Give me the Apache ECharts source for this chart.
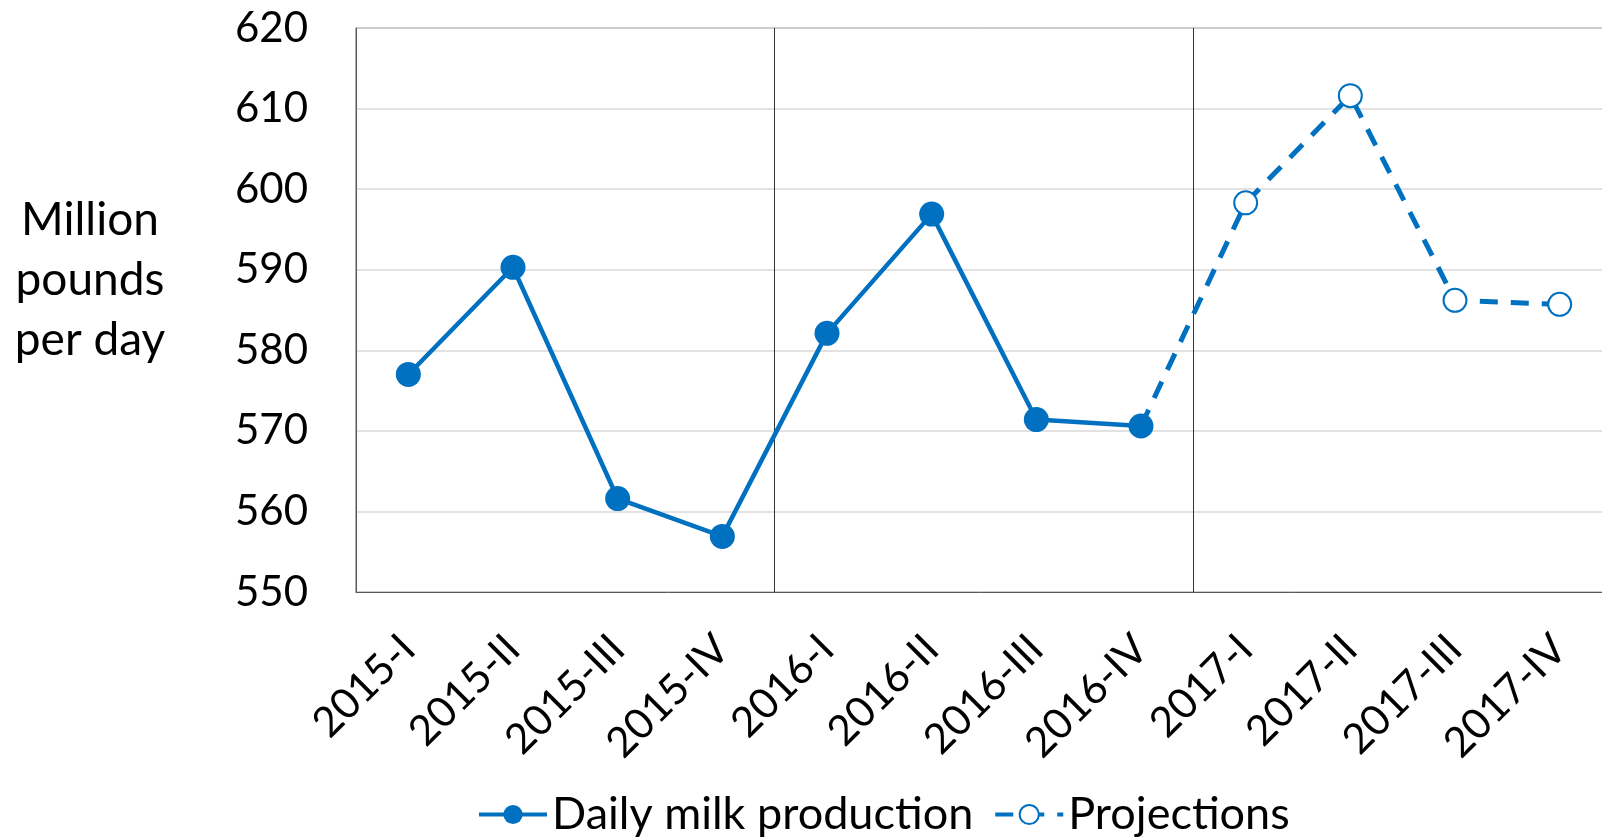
<!DOCTYPE html>
<html>
<head>
<meta charset="utf-8">
<script src="https://cdn.jsdelivr.net/npm/echarts@6/dist/echarts.min.js"></script>
<style>
  html, body { margin: 0; padding: 0; background: #fff; }
  #main { width: 1602px; height: 840px; }
</style>
</head>
<body>
<div id="main"></div>
<script>
var quarters = ['2015-I', '2015-II', '2015-III', '2015-IV', '2016-I', '2016-II', '2016-III', '2016-IV',
  '2017-I', '2017-II', '2017-III', '2017-IV'];
var production = [577, 590.3, 561.6, 556.9, 582.1, 596.9, 571.4, 570.6, null, null, null, null];
var projections = [null, null, null, null, null, null, null, 570.6, 598.3, 611.6, 586.2, 585.7];

var blue = '#0070C0';
var font = 'Lato, "Open Sans", sans-serif';

var myChart = echarts.init(document.getElementById('main'));

// projection line starts at the last actual point, no marker there
var projData = projections.map(function (v, i) {
  if (i === 7) return { value: v, symbol: 'none' };
  return v;
});

myChart.setOption({
  animation: false,
  textStyle: { fontFamily: font },
  grid: {
    left: 356,
    top: 28,
    width: 1256,
    height: 564,
    outerBoundsMode: 'none',
    show: true,
    borderColor: '#595959',
    borderWidth: 1
  },
  legend: {
    top: 787,
    left: 472,
    itemWidth: 68,
    itemHeight: 24,
    itemGap: 20,
    lineStyle: { width: 4 },
    textStyle: { fontSize: 45, color: '#000', fontFamily: font }
  },
  graphic: [{
    type: 'text',
    x: 90,
    y: 190,
    style: {
      text: 'Million\npounds\nper day',
      fontSize: 46,
      lineHeight: 60,
      fontFamily: font,
      fill: '#000',
      align: 'center',
      verticalAlign: 'top'
    }
  }],
  xAxis: {
    type: 'category',
    data: quarters,
    boundaryGap: true,
    axisLine: { show: true, lineStyle: { color: '#595959', width: 1 } },
    axisTick: { show: false },
    axisLabel: {
      rotate: 45,
      margin: 50,
      fontSize: 42,
      color: '#000',
      interval: 0
    },
    splitLine: {
      show: true,
      interval: function (i) { return i === 4 || i === 8; },
      lineStyle: { color: '#333', width: 1 }
    }
  },
  yAxis: {
    type: 'value',
    min: 550,
    max: 620,
    interval: 10,
    axisLine: { show: true, lineStyle: { color: '#595959' } },
    axisTick: { show: false },
    axisLabel: { fontSize: 42, color: '#000', margin: 48 },
    splitLine: { lineStyle: { color: '#d9d9d9', width: 1.5 } }
  },
  series: [
    {
      name: 'Daily milk production',
      type: 'line',
      data: production,
      symbol: 'circle',
      symbolSize: 25,
      lineStyle: { color: blue, width: 4.5 },
      itemStyle: { color: blue }
    },
    {
      name: 'Projections',
      type: 'line',
      data: projData,
      symbol: 'circle',
      symbolSize: 23,
      lineStyle: { color: blue, width: 5, type: [18, 13] },
      itemStyle: { color: '#fff', borderColor: blue, borderWidth: 2 }
    }
  ]
});

window.addEventListener('resize', function () {
  myChart.resize();
});
</script>
</body>
</html>
